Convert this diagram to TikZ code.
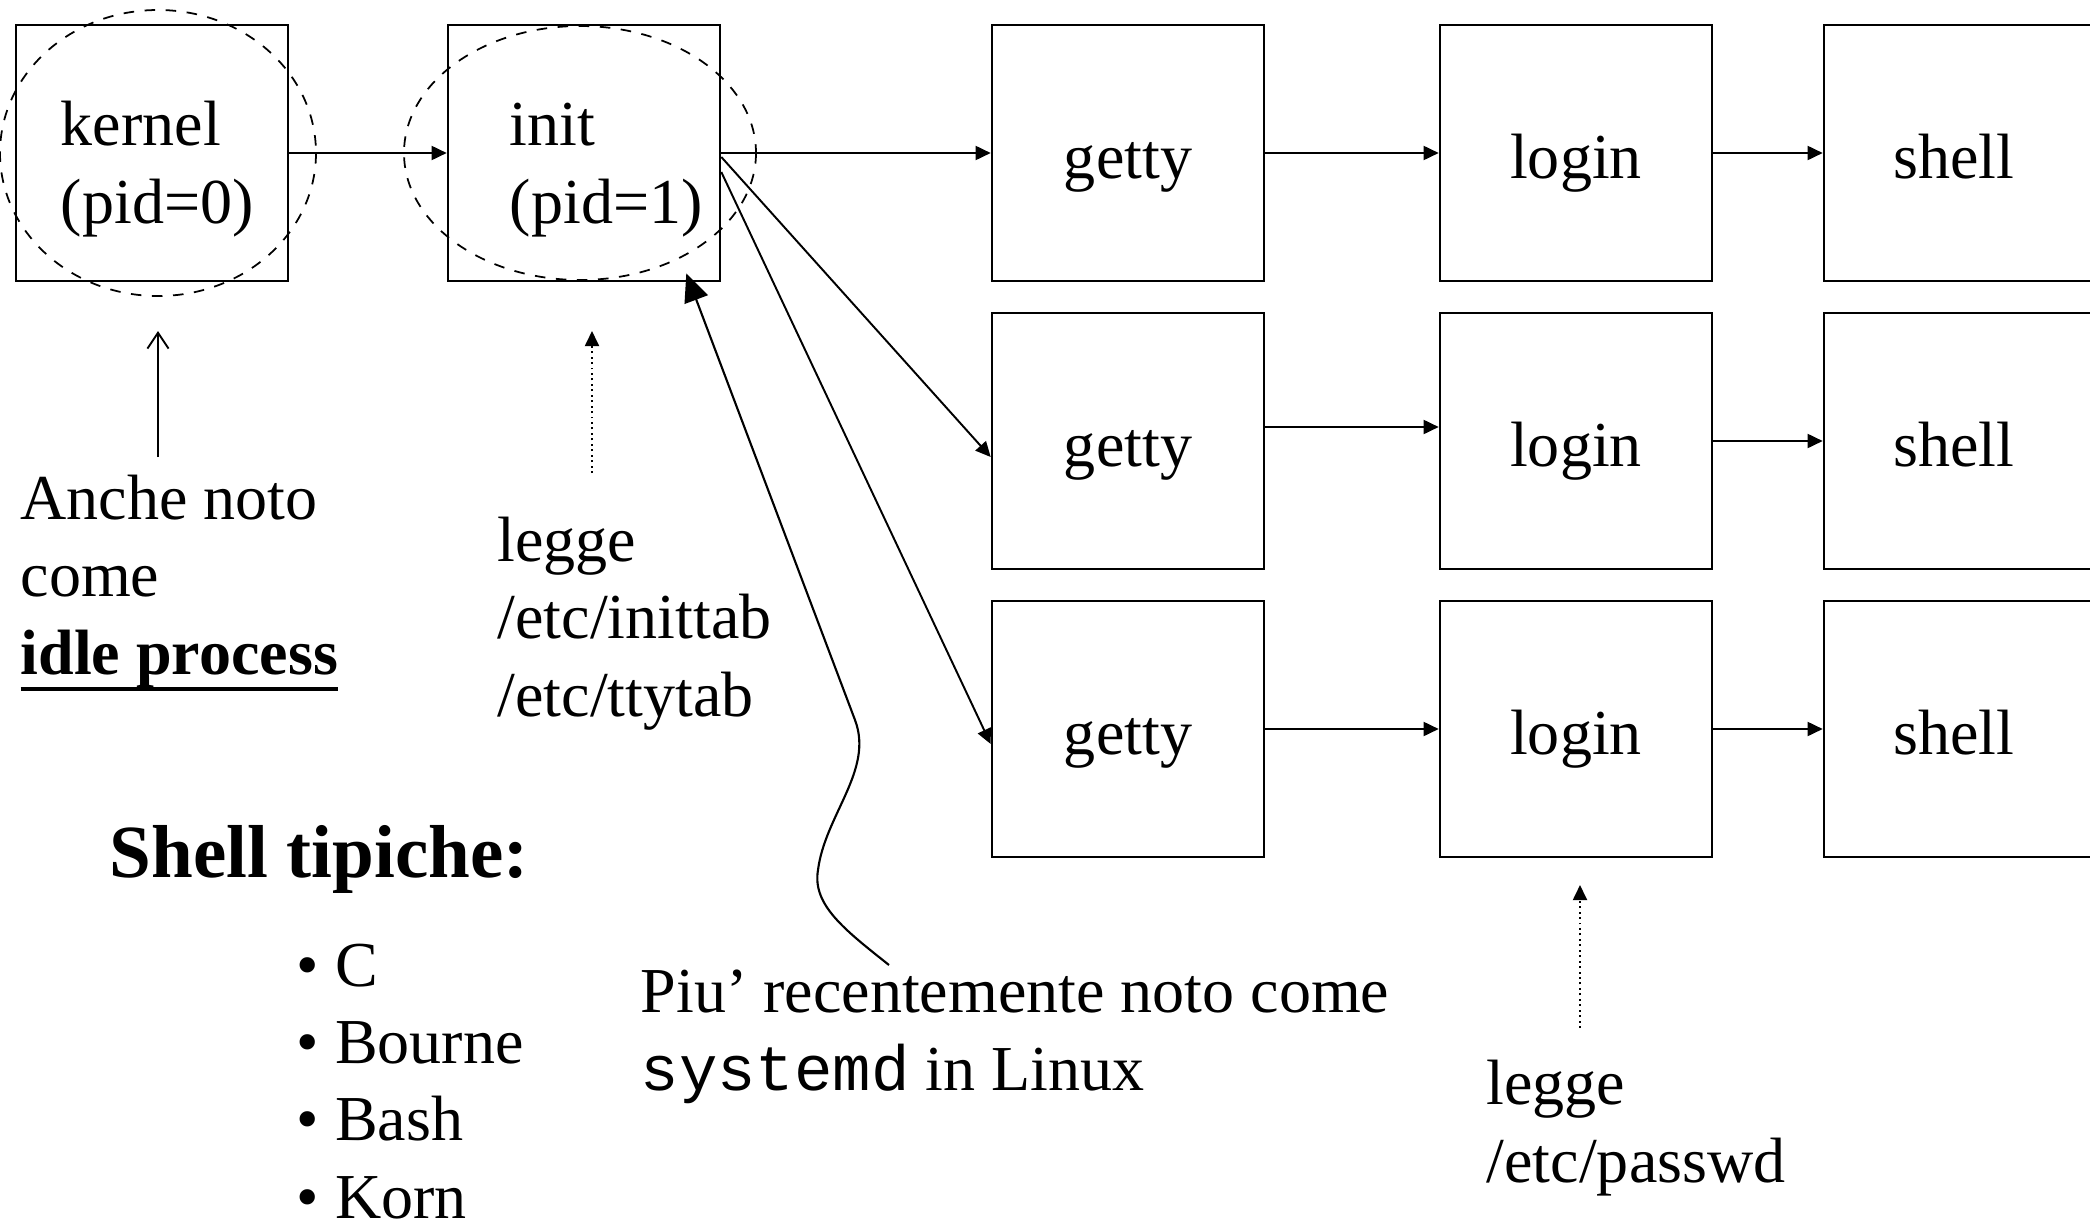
\documentclass[tikz,border=0pt]{standalone}
\usepackage{fontspec}
\setmainfont{Liberation Serif}
\setmonofont{Liberation Mono}
\usetikzlibrary{arrows.meta, calc}

\newcommand{\thickul}[1]{\setbox0\hbox{#1}\rlap{\rule[-0.17cm]{\wd0}{0.04cm}}\box0}

\begin{document}
\begin{tikzpicture}[x=0.01cm, y=-0.01cm,
        font=\fontsize{0.64cm}{0.77cm}\selectfont,
        proc/.style={draw, line width=0.7pt, minimum width=2.72cm, minimum height=2.56cm,
            inner sep=0pt, text height=0.5cm, text depth=0cm},
        pidbox/.style={proc, text width=#1, align=left, text depth=0.64cm},
        note/.style={anchor=base west, align=left, inner sep=0pt},
        link/.style={-{Triangle[length=4.3pt, width=4pt]}, line width=0.55pt},
        peek/.style={link, densely dotted},
        hint/.style={-{Straight Barb[length=4.5pt, width=6pt]}, line width=0.55pt},
        bigarrow/.style={-{Triangle[length=8pt, width=7pt]}, line width=0.6pt},
        halo/.style={dashed, line width=0.5pt}]
    \useasboundingbox (0,0) rectangle (2090,1221);
    \node[pidbox=1.82cm] (kernel) at (152,153) {kernel\\(pid=0)};
    \node[pidbox=1.48cm] (init) at (584,153) {init\\(pid=1)};
    \foreach \r/\y in {1/153,2/441,3/729}{
        \node[proc] (g\r) at (1128,\y) {getty};
        \node[proc] (l\r) at (1576,\y) {login};
        \node[proc] (s\r) at (1960,\y) {\hspace*{-0.12cm}shell};
    }
    \draw[halo] (158,153) ellipse [x radius=158, y radius=143];
    \draw[halo] (580,153) ellipse [x radius=176, y radius=127];

    \draw[link] (kernel) -- (init);
    \draw[link] (init.east) -- (g1.west);
    \draw[link] ($(init.east)+(0,4)$) -- ($(g2.west)+(0,16)$);
    \draw[link] ($(init.east)+(0,19)$) -- ($(g3.west)+(0,15)$);
    \draw[link] (g1) -- (l1);
    \draw[link] (l1) -- (s1);
    \draw[link] ($(g2.east)+(0,-14)$) -- ($(l2.west)+(0,-14)$);
    \draw[link] (l2) -- (s2);
    \draw[link] (g3) -- (l3);
    \draw[link] (l3) -- (s3);

    \node[note] (idle) at (20,674) {Anche noto\\come\\\textbf{\thickul{idle process}}};
    \node[note] (tabs) at (497,716) {legge\\/etc/inittab\\/etc/ttytab};
    \node[note, font=\fontsize{0.75cm}{0.9cm}\selectfont\bfseries] (shtitle) at (109,877) {Shell tipiche:};
    \node[note] (shlist) at (296,1218) {\textbullet\ C\\\textbullet\ Bourne\\\textbullet\ Bash\\\textbullet\ Korn};
    \node[note] (sysnote) at (640,1090) {Piu’ recentemente noto come\\\texttt{systemd} in Linux};
    \node[note] (passwd) at (1486,1182) {legge\\/etc/passwd};

    \coordinate (kfoot) at (158,457);
    \coordinate (khead) at (158,331);
    \coordinate (ifoot) at (592,473);
    \coordinate (ihead) at (592,331);
    \coordinate (pfoot) at (1580,1028);
    \coordinate (phead) at (1580,885);
    \coordinate (systail) at (889,965);
    \coordinate (systip) at ($(init.south east)+(-35,-9)$);
    \draw[hint] (kfoot) -- (khead);
    \draw[peek] (ifoot) -- (ihead);
    \draw[peek] (pfoot) -- (phead);
    \draw[bigarrow] (systail) .. controls (845,930) and (812,905) .. (818,870)
        .. controls (825,815) and (874,770) .. (855,720) -- (systip);
\end{tikzpicture}
\end{document}
